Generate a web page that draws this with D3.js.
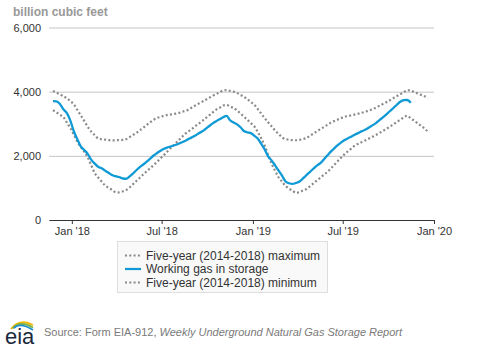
<!DOCTYPE html>
<html>
<head>
<meta charset="utf-8">
<script src="https://cdn.jsdelivr.net/npm/d3@7"></script>
<style>
  body { margin: 0; background: #fff; }
  svg text { font-family: "Liberation Sans", Arial, sans-serif; }
</style>
</head>
<body>
<div id="chart"></div>
<script>
// weekly report dates start here (one value per week)
const firstWeek = '2017-11-24';

// working gas in storage, billion cubic feet
const storage = [3705, 3700, 3613, 3450, 3330, 3100, 2767, 2520, 2296, 2180,
    2060, 1884, 1760, 1660, 1610, 1540, 1470, 1400, 1365, 1340,
    1300, 1285, 1350, 1445, 1550, 1645, 1730, 1820, 1915, 2010,
    2090, 2160, 2220, 2265, 2295, 2330, 2370, 2415, 2465, 2520,
    2575, 2635, 2705, 2765, 2845, 2930, 3010, 3080, 3140, 3205,
    3245, 3110, 3040, 2980, 2890, 2775, 2730, 2710, 2625, 2535,
    2370, 2190, 1975, 1850, 1695, 1535, 1375, 1200, 1145, 1125,
    1155, 1200, 1295, 1400, 1500, 1600, 1695, 1775, 1890, 2010,
    2130, 2235, 2330, 2420, 2495, 2550, 2605, 2665, 2715, 2770,
    2820, 2885, 2950, 3020, 3110, 3200, 3295, 3390, 3490, 3590,
    3685, 3735, 3740, 3650];

// five-year (2014-2018) maximum
const fiveYearMax = [4020, 3970, 3915, 3860, 3790, 3705, 3605, 3430, 3265, 3090,
    2910, 2760, 2650, 2540, 2515, 2505, 2490, 2480, 2485, 2490,
    2495, 2515, 2580, 2645, 2715, 2795, 2875, 2965, 3045, 3125,
    3180, 3215, 3250, 3275, 3290, 3310, 3330, 3365, 3400, 3438,
    3505, 3570, 3630, 3690, 3750, 3810, 3870, 3925, 3980, 4035,
    4050, 4025, 4000, 3960, 3900, 3840, 3760, 3675, 3590, 3455,
    3310, 3170, 3040, 2915, 2785, 2680, 2570, 2520, 2505, 2490,
    2485, 2500, 2520, 2560, 2625, 2695, 2765, 2830, 2900, 2965,
    3035, 3085, 3130, 3175, 3220, 3240, 3265, 3290, 3315, 3345,
    3380, 3410, 3450, 3505, 3560, 3615, 3670, 3730, 3795, 3860,
    3920, 3980, 4045, 4035, 3990, 3945, 3900, 3855, 3810];

// five-year (2014-2018) minimum
const fiveYearMin = [3420, 3355, 3280, 3209, 3040, 2865, 2665, 2445, 2275, 2125,
    1950, 1710, 1465, 1330, 1200, 1075, 1005, 940, 870, 860,
    890, 930, 1010, 1110, 1215, 1315, 1420, 1520, 1615, 1710,
    1815, 1920, 2030, 2140, 2250, 2355, 2465, 2575, 2680, 2765,
    2840, 2925, 3005, 3090, 3175, 3265, 3355, 3440, 3500, 3570,
    3585, 3535, 3490, 3415, 3320, 3220, 3120, 3020, 2915, 2740,
    2540, 2310, 2010, 1745, 1525, 1320, 1190, 1060, 975, 910,
    845, 870, 920, 965, 1050, 1140, 1235, 1320, 1410, 1495,
    1605, 1715, 1835, 1945, 2055, 2145, 2235, 2325, 2380, 2430,
    2485, 2540, 2595, 2650, 2710, 2775, 2840, 2910, 2980, 3055,
    3125, 3200, 3250, 3170, 3095, 3015, 2935, 2850, 2750];

const yTicks = [0, 2000, 4000, 6000];
const xTicks = ['2018-01-01', '2018-07-01', '2019-01-01', '2019-07-01', '2020-01-01'];
const xTickLabels = ["Jan '18", "Jul '18", "Jan '19", "Jul '19", "Jan '20"];
const legendLabels = ['Five-year (2014-2018) maximum', 'Working gas in storage', 'Five-year (2014-2018) minimum'];

const width = 478, height = 351;
const blue = '#0f9ad6', dotGrey = '#8a8a8a';

const parse = d3.timeParse('%Y-%m-%d');
const start = parse(firstWeek);
const weekDate = i => d3.timeDay.offset(start, 7 * i);

const svg = d3.select('#chart').append('svg')
    .attr('width', width)
    .attr('height', height);

const x = d3.scaleTime()
    .domain([new Date(2017, 10, 16), new Date(2020, 0, 1)])
    .range([49, 434]);

const y = d3.scaleLinear()
    .domain([0, 6000])
    .range([220, 27.5]);

// unit title
svg.append('text')
    .attr('x', 13)
    .attr('y', 16)
    .attr('font-size', 12)
    .attr('font-weight', 'bold')
    .attr('fill', '#999')
    .text('billion cubic feet');

// gridlines + y labels
const yAxis = d3.axisLeft(y)
    .tickValues(yTicks)
    .tickSize(-(434 - 49))
    .tickPadding(8)
    .tickFormat(d3.format(','));

svg.append('g')
    .attr('transform', 'translate(49,0)')
    .call(yAxis)
    .call(g => g.select('.domain').remove())
    .call(g => g.selectAll('.tick line').attr('stroke', '#c4c4c4'))
    .call(g => g.selectAll('.tick text')
        .attr('x', -8)
        .attr('font-size', 11)
        .attr('font-family', '"Liberation Sans", Arial, sans-serif')
        .attr('fill', '#333'));

// x axis
const xAxis = d3.axisBottom(x)
    .tickValues(xTicks.map(parse))
    .tickSize(4)
    .tickSizeOuter(0)
    .tickPadding(3)
    .tickFormat((d, i) => xTickLabels[i]);

svg.append('g')
    .attr('transform', `translate(0,${y(0)})`)
    .call(xAxis)
    .call(g => g.select('.domain').attr('stroke', '#333').attr('stroke-width', 1.2))
    .call(g => g.selectAll('.tick line').attr('stroke', '#333'))
    .call(g => g.selectAll('.tick text')
        .attr('font-size', 11)
        .attr('font-family', '"Liberation Sans", Arial, sans-serif')
        .attr('fill', '#333'));

const line = d3.line()
    .x((d, i) => x(weekDate(i)))
    .y(d => y(d))
    .curve(d3.curveMonotoneX);

const plot = svg.append('g');

plot.append('path')
    .datum(fiveYearMax)
    .attr('fill', 'none')
    .attr('stroke', dotGrey)
    .attr('stroke-width', 2.2)
    .attr('stroke-dasharray', '2,2.3')
    .attr('d', line);

plot.append('path')
    .datum(fiveYearMin)
    .attr('fill', 'none')
    .attr('stroke', dotGrey)
    .attr('stroke-width', 2.2)
    .attr('stroke-dasharray', '2,2.3')
    .attr('d', line);

plot.append('path')
    .datum(storage)
    .attr('fill', 'none')
    .attr('stroke', blue)
    .attr('stroke-width', 2.3)
    .attr('stroke-linejoin', 'round')
    .attr('d', line);

// legend
const legend = svg.append('g');
legend.append('rect')
    .attr('x', 117.5)
    .attr('y', 241.5)
    .attr('width', 210)
    .attr('height', 51)
    .attr('fill', '#f9f9f9')
    .attr('stroke', '#dedede');

const legendStyles = [
    {stroke: dotGrey, dash: '2,2.3'},
    {stroke: blue, dash: null},
    {stroke: dotGrey, dash: '2,2.3'}
];

const rows = legend.selectAll('.legend-row')
    .data(legendLabels)
    .enter()
    .append('g')
    .classed('legend-row', true)
    .attr('transform', (d, i) => `translate(0,${255.5 + i * 13.5})`);

rows.append('line')
    .attr('x1', 125)
    .attr('x2', 141)
    .attr('stroke', (d, i) => legendStyles[i].stroke)
    .attr('stroke-width', 2.2)
    .attr('stroke-dasharray', (d, i) => legendStyles[i].dash);

rows.append('text')
    .attr('x', 146)
    .attr('dy', '0.35em')
    .attr('font-size', 12)
    .attr('fill', '#333')
    .text(d => d);

// footer: eia mark + source
const logo = svg.append('g');
const arcColors = ['#f2b705', '#7cb342', '#1e8fd0'];
arcColors.forEach((c, i) => {
    logo.append('path')
        .attr('d', `M${11 + i * 1.5},${329 - i * 0.5} Q${20},${318 + i * 2} ${33},${325 + i * 2.5}`)
        .attr('fill', 'none')
        .attr('stroke', c)
        .attr('stroke-width', 1.8);
});
logo.append('text')
    .attr('x', 5)
    .attr('y', 344)
    .attr('font-family', '"Liberation Serif", "DejaVu Serif", serif')
    .attr('font-size', 22)
    .attr('fill', '#1b2a3a')
    .text('eia');

const source = svg.append('text')
    .attr('x', 44)
    .attr('y', 336)
    .attr('font-size', 11)
    .attr('fill', '#7a7a7a');
source.append('tspan').text('Source: Form EIA-912, ');
source.append('tspan').attr('font-style', 'italic').text('Weekly Underground Natural Gas Storage Report');
</script>
</body>
</html>
